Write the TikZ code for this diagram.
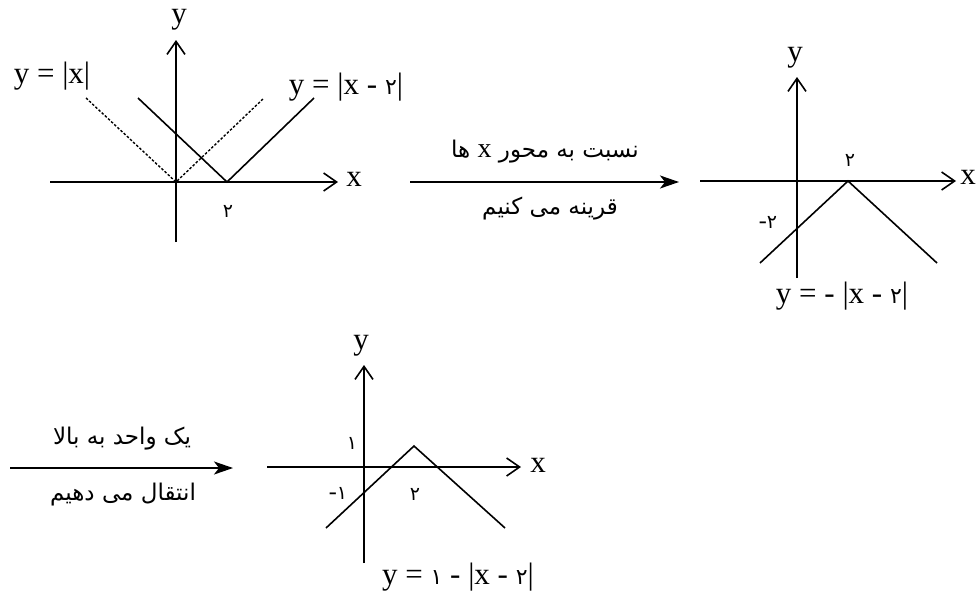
\documentclass[tikz,border=0pt]{standalone}
\usepackage{fontspec}
\setmainfont{Liberation Serif}
\newfontfamily\arabicfont[Script=Arabic]{DejaVu Sans}
\TeXXeTstate=1
\usetikzlibrary{arrows.meta}
\newcommand{\fa}[1]{{\arabicfont\fontsize{22}{26}\selectfont #1}}
\begin{document}
\begin{tikzpicture}[x=1pt,y=-1pt,
  axis/.style={line width=1.8pt,-{Straight Barb[length=13pt,width=18pt,line width=1.6pt]}},
  curve/.style={line width=1.6pt},
  dcurve/.style={line width=1.4pt,dash pattern=on 2.5pt off 1.8pt},
  trans/.style={line width=1.8pt,-{Stealth[length=19pt,width=13pt,inset=5pt]}},
  lbl/.style={inner sep=0pt,font=\fontsize{31}{34}\selectfont},
  ptxt/.style={inner sep=0pt,font=\arabicfont\fontsize{23}{28}\selectfont},
  num/.style={inner sep=0pt,font=\arabicfont\fontsize{19}{22}\selectfont}]
\useasboundingbox (0,0) rectangle (976,592);
% ---------- graph 1 ----------
\coordinate (a1x0) at (50,182);  \coordinate (a1x1) at (338,182);
\coordinate (a1y0) at (176,242); \coordinate (a1y1) at (176,40);
\draw[axis] (a1x0) -- (a1x1);
\draw[axis] (a1y0) -- (a1y1);
\coordinate (d1) at (86,98); \coordinate (d0) at (176,182); \coordinate (d2) at (264,98);
\draw[dcurve] (d1) -- (d0) -- (d2);
\coordinate (s1) at (138,98); \coordinate (s0) at (227,182); \coordinate (s2) at (314,98);
\draw[curve] (s1) -- (s0) -- (s2);
\node[lbl] (g1y) at (179,20) {y};
\node[lbl] (g1x) at (354,179) {x};
\node[lbl] (g1f1) at (52,76) {y = |x|};
\node[lbl] (g1f2) at (346,87) {y = |x - \fa{۲}|};
\node[num] (g1n2) at (228,211) {۲};
% ---------- arrow 1 ----------
\coordinate (t1a) at (410,182); \coordinate (t1b) at (679,182);
\draw[trans] (t1a) -- (t1b);
\node[ptxt] (t1u) at (545,152) {\beginR نسبت به محور {\rmfamily\fontsize{28}{30}\selectfont x} ها\endR};
\node[ptxt] (t1d) at (550,209) {\beginR قرینه می کنیم\endR};
% ---------- graph 2 ----------
\coordinate (a2x0) at (700,181); \coordinate (a2x1) at (956,181);
\coordinate (a2y0) at (797,278); \coordinate (a2y1) at (797,77);
\draw[axis] (a2x0) -- (a2x1);
\draw[axis] (a2y0) -- (a2y1);
\coordinate (u1) at (760,263); \coordinate (u0) at (848,181); \coordinate (u2) at (937,263);
\draw[curve] (u1) -- (u0) -- (u2);
\node[lbl] (g2y) at (795,58) {y};
\node[lbl,anchor=east] (g2x) at (976,177) {x};
\node[num] (g2n2) at (850,160) {۲};
\node[num] (g2m2) at (768,222) {{\rmfamily\fontsize{24}{26}\selectfont -}۲};
\node[lbl] (g2f) at (842,296) {y = - |x - \fa{۲}|};
% ---------- arrow 2 ----------
\coordinate (t2a) at (10,468); \coordinate (t2b) at (233,468);
\draw[trans] (t2a) -- (t2b);
\node[ptxt] (t2u) at (122,439) {\beginR یک واحد به بالا\endR};
\node[ptxt] (t2d) at (123,495) {\beginR انتقال می دهیم\endR};
% ---------- graph 3 ----------
\coordinate (a3x0) at (267,467); \coordinate (a3x1) at (521,467);
\coordinate (a3y0) at (364,563); \coordinate (a3y1) at (364,365);
\draw[axis] (a3x0) -- (a3x1);
\draw[axis] (a3y0) -- (a3y1);
\coordinate (w1) at (326,528); \coordinate (w0) at (414,446); \coordinate (w2) at (505,528);
\draw[curve] (w1) -- (w0) -- (w2);
\node[lbl] (g3y) at (361,346) {y};
\node[lbl] (g3x) at (538,465) {x};
\node[num] (g3n1) at (352,443) {۱};
\node[num] (g3m1) at (338,493) {{\rmfamily\fontsize{24}{26}\selectfont -}۱};
\node[num] (g3n2) at (415,494) {۲};
\node[lbl] (g3f) at (458,577) {y = \fa{۱} - |x - \fa{۲}|};
\end{tikzpicture}
\end{document}
